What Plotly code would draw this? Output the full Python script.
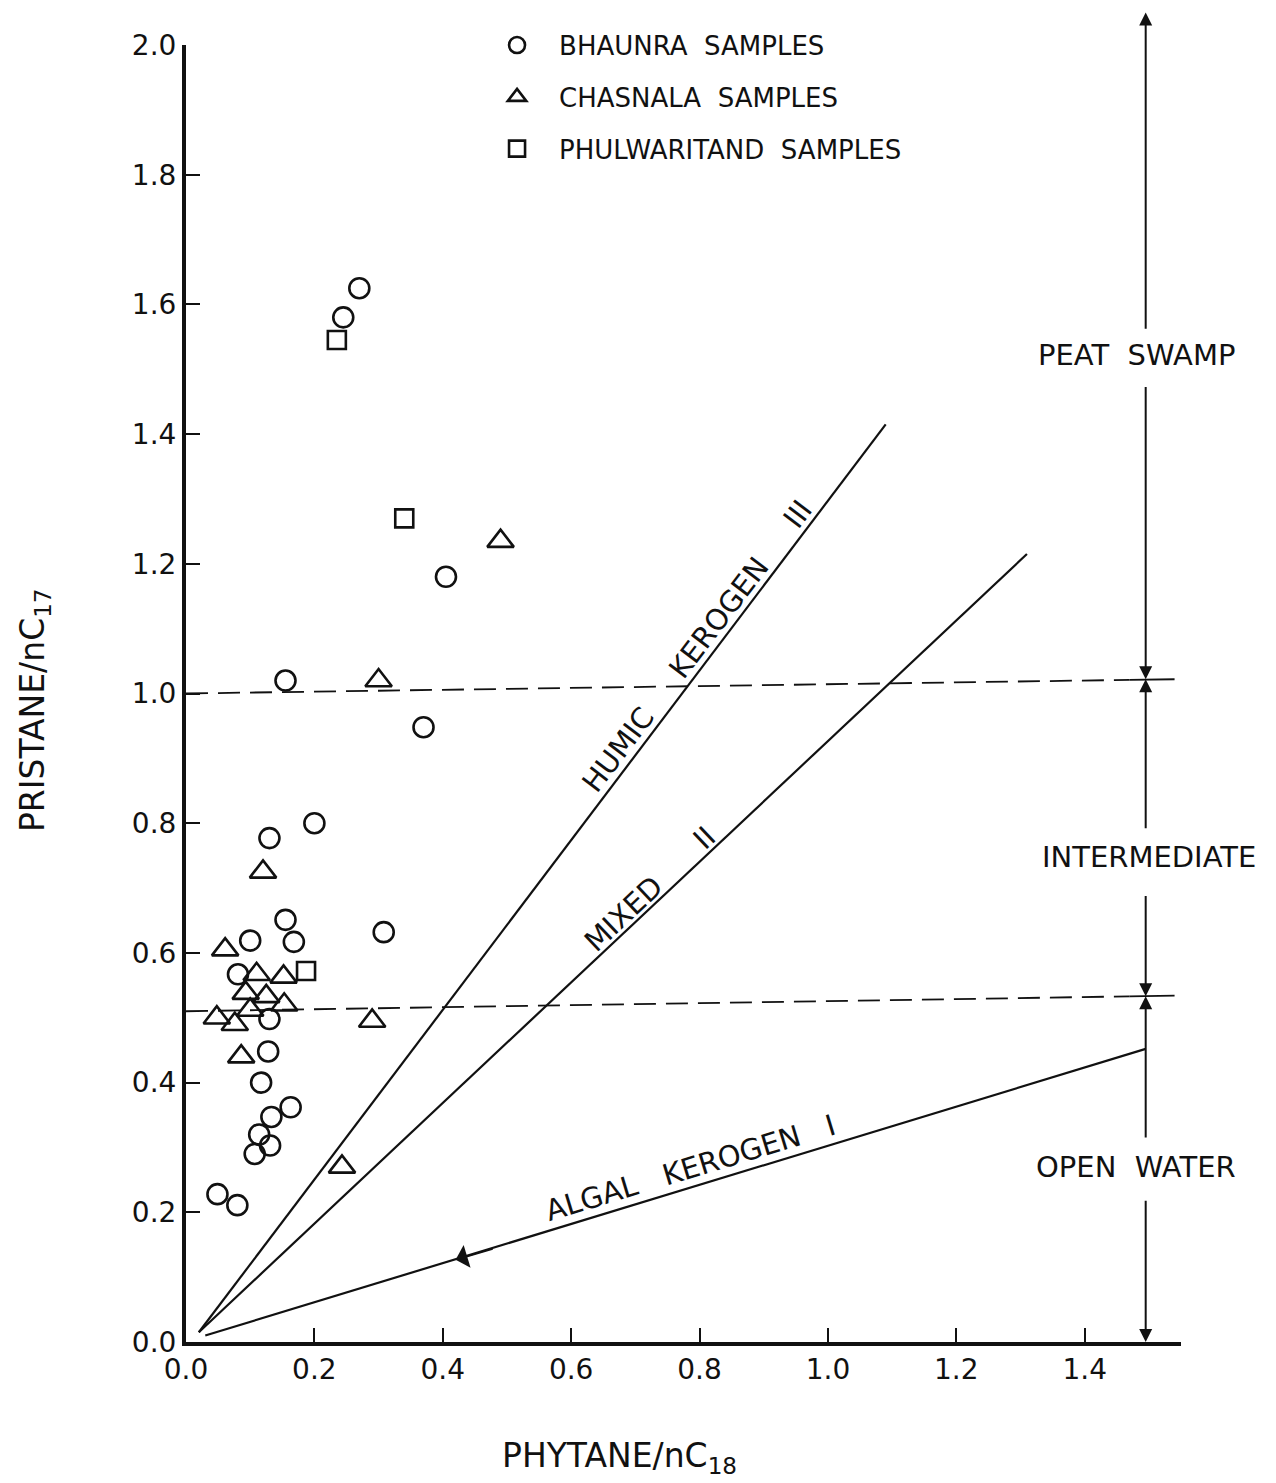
import plotly.graph_objects as go

# --- Sample ratios: Phytane/nC18 (x) vs Pristane/nC17 (y) ---
bhaunra_x = [0.27, 0.245, 0.405, 0.155, 0.37, 0.20, 0.13, 0.155, 0.308, 0.10, 0.168,
             0.081, 0.13, 0.128, 0.117, 0.163, 0.133, 0.114, 0.131, 0.107, 0.049, 0.08]
bhaunra_y = [1.625, 1.58, 1.18, 1.02, 0.948, 0.80, 0.777, 0.651, 0.632, 0.619, 0.617,
             0.567, 0.498, 0.448, 0.40, 0.362, 0.347, 0.32, 0.303, 0.29, 0.228, 0.211]

chasnala_x = [0.49, 0.30, 0.12, 0.061, 0.11, 0.152, 0.093, 0.125, 0.153, 0.10,
              0.048, 0.076, 0.29, 0.086, 0.243]
chasnala_y = [1.235, 1.02, 0.725, 0.605, 0.567, 0.563, 0.538, 0.533, 0.52, 0.512,
              0.50, 0.49, 0.495, 0.44, 0.27]

phulwaritand_x = [0.235, 0.34, 0.187]
phulwaritand_y = [1.545, 1.27, 0.572]

# --- Kerogen trend lines ---
humic_x = [0.02, 1.09]
humic_y = [0.015, 1.415]
mixed_x = [0.02, 1.31]
mixed_y = [0.015, 1.215]
algal_x = [0.03, 1.495]
algal_y = [0.01, 0.452]

# --- Environment boundaries (dashed) ---
upper_bound_x = [0.0, 1.47]
upper_bound_y = [1.0, 1.021]
lower_bound_x = [0.0, 1.47]
lower_bound_y = [0.51, 0.533]

x_ticks = [0.0, 0.2, 0.4, 0.6, 0.8, 1.0, 1.2, 1.4]
y_ticks = [0.0, 0.2, 0.4, 0.6, 0.8, 1.0, 1.2, 1.4, 1.6, 1.8, 2.0]

FONT = "DejaVu Sans"
INK = "#111111"
SP = "\u00a0"

fig = go.Figure()

# trend lines and boundaries
for xs, ys in [(humic_x, humic_y), (mixed_x, mixed_y), (algal_x, algal_y)]:
    fig.add_trace(go.Scatter(x=xs, y=ys, mode="lines", showlegend=False,
                             line=dict(color=INK, width=2.2), hoverinfo="skip"))
for xs, ys in [(upper_bound_x, upper_bound_y), (lower_bound_x, lower_bound_y)]:
    fig.add_trace(go.Scatter(x=xs, y=ys, mode="lines", showlegend=False,
                             line=dict(color=INK, width=1.8, dash="22px,10px"),
                             hoverinfo="skip"))
    # short solid tick across the scale bar
    fig.add_trace(go.Scatter(x=[xs[1], 1.54], y=[ys[1], ys[1] + 0.001], mode="lines",
                             showlegend=False, line=dict(color=INK, width=1.8),
                             hoverinfo="skip"))

# sample points
fig.add_trace(go.Scatter(
    x=bhaunra_x, y=bhaunra_y, mode="markers", name="BHAUNRA" + SP * 2 + "SAMPLES",
    legendgroup="b",
    marker=dict(symbol="circle-open", size=20, color=INK, line=dict(width=2.6, color=INK))))
fig.add_trace(go.Scatter(
    x=chasnala_x, y=chasnala_y, mode="markers", name="CHASNALA" + SP * 2 + "SAMPLES",
    legendgroup="c",
    marker=dict(symbol="triangle-up-open", size=23, color=INK, line=dict(width=2.6, color=INK))))
fig.add_trace(go.Scatter(
    x=phulwaritand_x, y=phulwaritand_y, mode="markers",
    name="PHULWARITAND" + SP * 2 + "SAMPLES", legendgroup="p",
    marker=dict(symbol="square-open", size=18, color=INK, line=dict(width=2.6, color=INK))))

annotations = []

# vertical scale bar with arrows on the right
scale_x = 1.495
segments = [  # (head_y, tail_y)
    (2.05, 1.56),
    (1.022, 1.475),
    (1.022, 0.79),
    (0.533, 0.69),
    (0.533, 0.313),
    (0.0, 0.22),
]
for head, tail in segments:
    annotations.append(dict(
        x=scale_x, y=head, ax=scale_x, ay=tail, xref="x", yref="y",
        axref="x", ayref="y", text="", showarrow=True, arrowhead=2,
        arrowsize=1.3, arrowwidth=2, arrowcolor=INK, standoff=0))

# arrow on the algal line, pointing towards the origin
annotations.append(dict(
    x=0.42, y=0.1267, ax=0.48, ay=0.1446, xref="x", yref="y", axref="x", ayref="y",
    text="", showarrow=True, arrowhead=1, arrowsize=2, arrowwidth=2,
    arrowcolor=INK, standoff=0))

region_font = dict(family=FONT, size=29, color=INK)
annotations += [
    dict(x=1.48, y=1.522, xref="x", yref="y", text="PEAT" + SP * 2 + "SWAMP",
         showarrow=False, font=region_font),
    dict(x=1.50, y=0.748, xref="x", yref="y", text="INTERMEDIATE",
         showarrow=False, font=region_font),
    dict(x=1.48, y=0.27, xref="x", yref="y", text="OPEN" + SP * 2 + "WATER",
         showarrow=False, font=region_font),
]

line_font = dict(family=FONT, size=29, color=INK)
annotations += [
    dict(x=0.796, y=1.074, xref="x", yref="y",
         text="HUMIC" + SP * 5 + "KEROGEN" + SP * 5 + "III",
         textangle=-52.7, showarrow=False, font=line_font),
    dict(x=0.723, y=0.698, xref="x", yref="y", text="MIXED" + SP * 6 + "II",
         textangle=-43.2, showarrow=False, font=line_font),
    dict(x=0.786, y=0.268, xref="x", yref="y",
         text="ALGAL" + SP * 3 + "KEROGEN" + SP * 3 + "I",
         textangle=-16.9, showarrow=False, font=line_font),
]

title_font = dict(family=FONT, size=33, color=INK)
annotations += [
    dict(x=0.436, y=-0.0894, xref="paper", yref="paper", xanchor="center",
         yanchor="middle", text="PHYTANE/nC<sub>18</sub>", showarrow=False,
         font=title_font),
    dict(x=-0.152, y=0.487, xref="paper", yref="paper", xanchor="center",
         yanchor="middle", text="PRISTANE/nC<sub>17</sub>", textangle=-90,
         showarrow=False, font=title_font),
]

fig.update_layout(
    width=1276, height=1483,
    margin=dict(l=186, r=95, t=45, b=141),
    paper_bgcolor="white", plot_bgcolor="white",
    font=dict(family=FONT, color=INK),
    annotations=annotations,
    legend=dict(x=0.2905, y=1.018, xanchor="left", yanchor="top",
                bgcolor="rgba(0,0,0,0)", tracegroupgap=15, itemwidth=74,
                font=dict(family=FONT, size=26, color=INK)),
)

fig.update_xaxes(
    range=[0, 1.55], tickvals=x_ticks, ticktext=[f"{v:.1f}" for v in x_ticks],
    showgrid=False, zeroline=False, showline=True, linewidth=3.5, linecolor=INK,
    ticks="inside", ticklen=14, tickwidth=1.8, tickcolor=INK,
    tickfont=dict(family=FONT, size=28, color=INK))
fig.update_yaxes(
    range=[0, 2.0], tickvals=y_ticks, ticktext=[f"{v:.1f}" for v in y_ticks],
    showgrid=False, zeroline=False, showline=True, linewidth=4, linecolor=INK,
    ticks="inside", ticklen=14, tickwidth=1.8, tickcolor=INK,
    tickfont=dict(family=FONT, size=28, color=INK))

fig.write_html("out.html")
